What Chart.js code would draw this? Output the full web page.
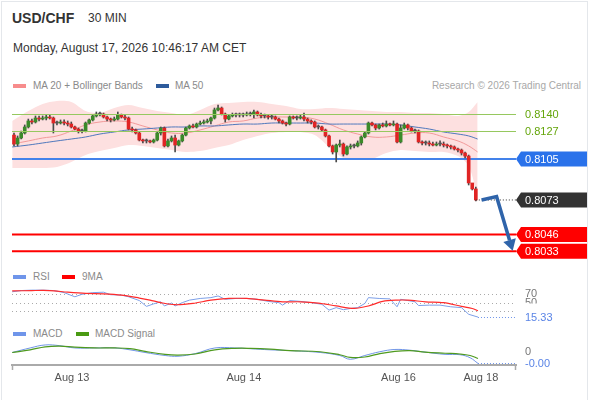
<!DOCTYPE html>
<html>
<head>
<meta charset="utf-8">
<title>USD/CHF 30 MIN</title>
<script src="https://cdn.jsdelivr.net/npm/chart.js@4.4.1/dist/chart.umd.min.js"></script>
<style>
    body { margin: 0; background: #fff; font-family: "Liberation Sans", Arial, sans-serif; }
    #frame { position: relative; width: 590px; height: 400px; overflow: hidden; }
    #border { position: absolute; left: 1px; top: 1px; width: 587px; height: 402px; border: 1px solid #e4e7eb; box-sizing: border-box; }
    .txt { position: absolute; white-space: nowrap; }
    .leg { position: absolute; white-space: nowrap; font-size: 10px; line-height: 12px; color: #8a8a8a; }
    .sw { position: absolute; width: 13px; height: 4px; }
    .panel { position: absolute; left: 0; width: 590px; }
</style>
</head>
<body>
<div id="frame">
    <div id="border"></div>

    <div class="txt" style="left:12px; top:10px; font-size:14px; line-height:17px; font-weight:bold; color:#333;">USD/CHF</div>
    <div class="txt" style="left:88px; top:11px; font-size:12px; line-height:14px; color:#333;">30 MIN</div>
    <div class="txt" style="left:13px; top:41px; font-size:12px; line-height:14px; color:#333;">Monday, August 17, 2026 10:46:17 AM CET</div>

    <!-- legend price panel -->
    <div class="sw" style="left:13px; top:84px; background:#f78c8c;"></div>
    <div class="leg" style="left:33px; top:80px;">MA 20 + Bollinger Bands</div>
    <div class="sw" style="left:156px; top:84px; background:#2e5b9c;"></div>
    <div class="leg" style="left:175px; top:80px;">MA 50</div>
    <div class="leg" style="right:9px; top:80px; color:#a8a8a8;">Research © 2026 Trading Central</div>

    <!-- legend RSI -->
    <div class="sw" style="left:13px; top:275px; background:#6f95ea;"></div>
    <div class="leg" style="left:33px; top:271px;">RSI</div>
    <div class="sw" style="left:62px; top:275px; background:#ff0000;"></div>
    <div class="leg" style="left:82px; top:271px;">9MA</div>

    <!-- legend MACD -->
    <div class="sw" style="left:13px; top:332px; background:#6f95ea;"></div>
    <div class="leg" style="left:33px; top:328px;">MACD</div>
    <div class="sw" style="left:76px; top:332px; background:#4a9a12;"></div>
    <div class="leg" style="left:95px; top:328px;">MACD Signal</div>

    <div class="panel" style="top:95px; height:167px;"><canvas id="priceChart"></canvas></div>
    <div class="panel" style="top:280px; height:45px;"><canvas id="rsiChart"></canvas></div>
    <div class="panel" style="top:340px; height:58px;"><canvas id="macdChart"></canvas></div>
</div>

<script>
// ---- data (candle index = 30 min bar) ----
var firstOpen = 0.81237;
var closes = [
    0.81167, 0.81214, 0.81253, 0.81300, 0.81347, 0.81339, 0.81370, 0.81362, 0.81370, 0.81378,
    0.81370, 0.81331, 0.81331, 0.81339, 0.81331, 0.81323, 0.81300, 0.81284, 0.81269, 0.81269,
    0.81331, 0.81355, 0.81386, 0.81401, 0.81401, 0.81378, 0.81362, 0.81355, 0.81362, 0.81394,
    0.81378, 0.81370, 0.81284, 0.81277, 0.81253, 0.81198, 0.81191, 0.81191, 0.81183, 0.81198,
    0.81253, 0.81292, 0.81152, 0.81191, 0.81214, 0.81159, 0.81191, 0.81237, 0.81292, 0.81308,
    0.81300, 0.81323, 0.81331, 0.81339, 0.81347, 0.81370, 0.81433, 0.81448, 0.81401, 0.81362,
    0.81386, 0.81394, 0.81394, 0.81394, 0.81394, 0.81401, 0.81401, 0.81417, 0.81394, 0.81386,
    0.81386, 0.81378, 0.81378, 0.81362, 0.81347, 0.81331, 0.81323, 0.81378, 0.81370, 0.81370,
    0.81378, 0.81362, 0.81347, 0.81339, 0.81300, 0.81300, 0.81277, 0.81230, 0.81152, 0.81105,
    0.81159, 0.81167, 0.81089, 0.81144, 0.81152, 0.81152, 0.81175, 0.81222, 0.81253, 0.81331,
    0.81316, 0.81292, 0.81316, 0.81308, 0.81323, 0.81316, 0.81323, 0.81183, 0.81292, 0.81316,
    0.81292, 0.81269, 0.81269, 0.81183, 0.81175, 0.81175, 0.81167, 0.81159, 0.81167, 0.81167,
    0.81159, 0.81152, 0.81144, 0.81128, 0.81120, 0.81097, 0.81073, 0.80863, 0.80816, 0.80730
];
var highs = [
    0.81253, 0.81230, 0.81269, 0.81316, 0.81362, 0.81362, 0.81386, 0.81386, 0.81386, 0.81394,
    0.81394, 0.81378, 0.81347, 0.81355, 0.81355, 0.81347, 0.81339, 0.81308, 0.81292, 0.81284,
    0.81339, 0.81362, 0.81394, 0.81417, 0.81417, 0.81409, 0.81386, 0.81370, 0.81378, 0.81417,
    0.81401, 0.81394, 0.81378, 0.81300, 0.81284, 0.81261, 0.81206, 0.81206, 0.81198, 0.81206,
    0.81261, 0.81300, 0.81300, 0.81206, 0.81230, 0.81237, 0.81198, 0.81245, 0.81300, 0.81316,
    0.81323, 0.81331, 0.81347, 0.81355, 0.81362, 0.81378, 0.81448, 0.81472, 0.81456, 0.81409,
    0.81394, 0.81409, 0.81409, 0.81409, 0.81409, 0.81417, 0.81417, 0.81433, 0.81425, 0.81409,
    0.81401, 0.81394, 0.81394, 0.81386, 0.81370, 0.81355, 0.81339, 0.81386, 0.81386, 0.81386,
    0.81394, 0.81409, 0.81370, 0.81355, 0.81347, 0.81316, 0.81308, 0.81284, 0.81237, 0.81159,
    0.81167, 0.81198, 0.81175, 0.81152, 0.81167, 0.81167, 0.81191, 0.81230, 0.81261, 0.81339,
    0.81339, 0.81323, 0.81323, 0.81331, 0.81347, 0.81331, 0.81347, 0.81331, 0.81316, 0.81331,
    0.81323, 0.81300, 0.81284, 0.81277, 0.81191, 0.81191, 0.81191, 0.81183, 0.81183, 0.81191,
    0.81183, 0.81167, 0.81159, 0.81152, 0.81136, 0.81128, 0.81105, 0.81081, 0.80847, 0.80831
];
var lows = [
    0.81152, 0.81152, 0.81206, 0.81245, 0.81292, 0.81323, 0.81331, 0.81347, 0.81355, 0.81355,
    0.81362, 0.81253, 0.81316, 0.81323, 0.81316, 0.81308, 0.81292, 0.81277, 0.81253, 0.81253,
    0.81261, 0.81323, 0.81347, 0.81378, 0.81386, 0.81370, 0.81347, 0.81339, 0.81347, 0.81355,
    0.81370, 0.81355, 0.81277, 0.81261, 0.81245, 0.81191, 0.81175, 0.81175, 0.81175, 0.81175,
    0.81191, 0.81237, 0.81144, 0.81144, 0.81183, 0.81105, 0.81152, 0.81183, 0.81230, 0.81284,
    0.81292, 0.81292, 0.81316, 0.81323, 0.81331, 0.81323, 0.81362, 0.81425, 0.81394, 0.81339,
    0.81355, 0.81378, 0.81378, 0.81378, 0.81378, 0.81386, 0.81386, 0.81370, 0.81386, 0.81370,
    0.81370, 0.81362, 0.81362, 0.81355, 0.81331, 0.81323, 0.81308, 0.81316, 0.81362, 0.81355,
    0.81362, 0.81347, 0.81331, 0.81323, 0.81292, 0.81284, 0.81269, 0.81222, 0.81144, 0.81089,
    0.81027, 0.81144, 0.81073, 0.81081, 0.81128, 0.81136, 0.81144, 0.81159, 0.81214, 0.81245,
    0.81308, 0.81277, 0.81284, 0.81300, 0.81300, 0.81308, 0.81308, 0.81175, 0.81175, 0.81284,
    0.81277, 0.81261, 0.81253, 0.81175, 0.81159, 0.81159, 0.81152, 0.81152, 0.81152, 0.81152,
    0.81144, 0.81136, 0.81128, 0.81120, 0.81105, 0.81081, 0.81058, 0.80847, 0.80808, 0.80722
];

// bollinger bands / moving averages, read every few bars
var bandIdx = [-0.5, 4, 8, 12, 16, 20, 24, 28, 32, 36, 40, 44, 48, 52, 56, 60, 64, 68, 72, 76, 80, 84, 88, 92, 96, 100, 104, 108, 112, 116, 120, 124, 127, 129.5];
var bbUpper = [0.81347, 0.81425, 0.81480, 0.81503, 0.81495, 0.81425, 0.81409, 0.81448, 0.81472, 0.81448, 0.81425, 0.81409, 0.81394, 0.81433, 0.81480, 0.81487, 0.81495, 0.81495, 0.81480, 0.81464, 0.81441, 0.81441, 0.81448, 0.81441, 0.81433, 0.81425, 0.81417, 0.81417, 0.81409, 0.81409, 0.81401, 0.81386, 0.81417, 0.81495];
var bbLower = [0.80980, 0.80980, 0.80980, 0.80988, 0.81027, 0.81081, 0.81112, 0.81136, 0.81159, 0.81152, 0.81136, 0.81120, 0.81105, 0.81112, 0.81136, 0.81159, 0.81198, 0.81230, 0.81253, 0.81261, 0.81261, 0.81237, 0.81144, 0.81058, 0.81042, 0.81050, 0.81097, 0.81120, 0.81112, 0.81105, 0.81105, 0.81073, 0.80995, 0.80753];
var ma20 = [0.81167, 0.81191, 0.81214, 0.81230, 0.81269, 0.81316, 0.81339, 0.81347, 0.81339, 0.81308, 0.81277, 0.81253, 0.81253, 0.81277, 0.81308, 0.81339, 0.81347, 0.81370, 0.81378, 0.81378, 0.81378, 0.81362, 0.81323, 0.81277, 0.81245, 0.81222, 0.81222, 0.81237, 0.81253, 0.81253, 0.81222, 0.81191, 0.81152, 0.81105];
var ma50 = [0.81144, 0.81159, 0.81175, 0.81191, 0.81206, 0.81222, 0.81245, 0.81261, 0.81277, 0.81284, 0.81292, 0.81300, 0.81300, 0.81308, 0.81308, 0.81316, 0.81323, 0.81323, 0.81331, 0.81331, 0.81331, 0.81331, 0.81323, 0.81323, 0.81323, 0.81323, 0.81323, 0.81316, 0.81300, 0.81284, 0.81261, 0.81245, 0.81230, 0.81206];

// key levels
var resistances = [0.8140, 0.8127];
var pivot = 0.8105;
var lastPrice = 0.8073;
var supports = [0.8046, 0.8033];

// forecast arrow
var forecastIdx = [130.6, 134.8, 139.3];
var forecastPrice = [0.80730, 0.80756, 0.80334];

// RSI + 9MA
var rsiIdx = [-0.5, 2, 5, 8, 11, 14, 17, 19, 22, 25, 27, 30, 32, 35, 37, 39, 41, 42, 44, 45, 47, 49, 52, 55, 57, 59, 62, 65, 68, 71, 74, 75, 77, 80, 83, 86, 88, 90, 92, 94, 96, 98, 99, 102, 105, 107, 108, 110, 112, 113, 116, 119, 122, 125, 127, 129.6];
var rsiVal = [76, 79, 80, 80, 79, 74, 64, 70, 74, 75, 69, 68, 64, 55, 41, 47, 52, 42, 49, 42, 50, 56, 60, 62, 66, 58, 60, 60, 58, 53, 50, 44, 55, 53, 50, 46, 32, 38, 33, 36, 38, 48, 62, 60, 59, 40, 58, 55, 52, 43, 44, 44, 40, 38, 22, 15.33];
var rsiMaIdx = [-0.5, 5, 10, 15, 20, 25, 30, 35, 38, 41, 45, 50, 55, 60, 65, 70, 75, 80, 85, 90, 95, 99, 103, 107, 110, 115, 120, 125, 128, 129.6];
var rsiMaVal = [78, 79, 79, 75, 72, 71, 68, 61, 56, 50, 45, 48, 56, 60, 60, 56, 52, 52, 49, 42, 36, 42, 53, 56, 56, 52, 50, 41, 36, 30.6];
var rsiLevels = [70, 50, 30];
var rsiLabels = [70, 50];

// MACD
var macdIdx = [-0.5, 4.5, 8.7, 12.8, 17, 22.6, 28.2, 32.4, 36.6, 42.2, 45.8, 50.6, 56.1, 61.7, 66, 71.5, 77.1, 85.5, 91, 93.9, 98, 102.2, 106.4, 110.6, 114.8, 120.4, 124.6, 127.4, 129.6];
var macdVal = [-0.00001, 0.00011, 0.00019, 0.00017, 0.00011, 0.00011, 0.00011, 0.00006, -0.00001, -0.00009, -0.00011, -0.00004, 0.00011, 0.00011, 0.00009, 0.00006, 0.00004, -0.00001, -0.00009, -0.00019, -0.00009, 0.00001, 0.00007, 0.00005, 0, -0.00006, -0.00007, -0.00015, -0.0003];
var signalVal = [-0.00001, 0.00006, 0.00014, 0.00016, 0.00013, 0.00011, 0.00011, 0.00009, 0.00002, -0.00006, -0.00008, -0.00005, 0.00006, 0.00010, 0.00010, 0.00008, 0.00004, 0.00001, -0.00007, -0.00014, -0.00013, -0.00004, 0.00002, 0.00004, 0, -0.00003, -0.00005, -0.00009, -0.00017];

// x axis labels
var dayLabels = ['Aug 13', 'Aug 14', 'Aug 16', 'Aug 18'];
var dayIdx = [16.2, 64.2, 107.4, 130.4];

// ---- helpers ----
Chart.defaults.font.family = '"Liberation Sans", Arial, sans-serif';
var labelFont = '11px "Liberation Sans", Arial, sans-serif';
var xMin = -0.56, xMax = 140.22;
var pad = { left: 12, right: 74, top: 0, bottom: 0 };
var levelGreen = 'rgb(150, 200, 95)';
var labelGreen = 'rgb(100, 165, 10)';

function pts(xs, ys) {
    return xs.map((x, i) => ({ x: x, y: ys[i] }));
}

var opens = closes.map((c, i) => i === 0 ? firstOpen : closes[i - 1]);
var candleColors = closes.map((c, i) => c > opens[i] ? '#3b8a2a' : (c < opens[i] ? '#e02424' : '#555'));

function hline(ctx, area, py, color, width, dash) {
    ctx.save();
    ctx.beginPath();
    ctx.setLineDash(dash || []);
    ctx.moveTo(area.left, py);
    ctx.lineTo(area.right, py);
    ctx.strokeStyle = color;
    ctx.lineWidth = width;
    ctx.stroke();
    ctx.restore();
}

function tag(ctx, xTip, xEnd, py, color, text) {
    ctx.beginPath();
    ctx.moveTo(xTip, py);
    ctx.lineTo(xTip + 5, py - 7.5);
    ctx.lineTo(xEnd, py - 7.5);
    ctx.lineTo(xEnd, py + 7.5);
    ctx.lineTo(xTip + 5, py + 7.5);
    ctx.closePath();
    ctx.fillStyle = color;
    ctx.fill();
    ctx.fillStyle = '#fff';
    ctx.font = labelFont;
    ctx.textBaseline = 'middle';
    ctx.fillText(text, xTip + 9, py + 0.5);
}

// levels, tags and arrow on the price panel
var priceOverlay = {
    id: 'priceOverlay',
    beforeDatasetsDraw(chart) {
        var ctx = chart.ctx, a = chart.chartArea, ys = chart.scales.y;
        hline(ctx, a, ys.getPixelForValue(pivot), '#4382ea', 2);
        supports.forEach(v => hline(ctx, a, ys.getPixelForValue(v), '#ff0000', 2));
    },
    afterDatasetsDraw(chart) {
        var ctx = chart.ctx, a = chart.chartArea, xs = chart.scales.x, ys = chart.scales.y;
        var xEnd = chart.width - 3;
        ctx.save();
        // resistance lines go over the band and averages
        resistances.forEach(v => hline(ctx, a, Math.round(ys.getPixelForValue(v)) + 0.5, levelGreen, 1));

        // dotted last price
        var py = ys.getPixelForValue(lastPrice);
        ctx.beginPath();
        ctx.setLineDash([1, 2]);
        ctx.moveTo(xs.getPixelForValue(closes.length - 1), py);
        ctx.lineTo(a.right, py);
        ctx.strokeStyle = '#333';
        ctx.lineWidth = 1;
        ctx.stroke();
        ctx.setLineDash([]);

        // forecast arrow
        var ax = forecastIdx.map(v => xs.getPixelForValue(v));
        var ay = forecastPrice.map(v => ys.getPixelForValue(v));
        var n = ax.length - 1;
        var dx = ax[n] - ax[n - 1], dy = ay[n] - ay[n - 1];
        var len = Math.hypot(dx, dy), ux = dx / len, uy = dy / len;
        var head = 11, half = 6.5;
        var bx = ax[n] - ux * head, by = ay[n] - uy * head;
        ctx.beginPath();
        ctx.moveTo(ax[0], ay[0]);
        for (var i = 1; i < n; i++) ctx.lineTo(ax[i], ay[i]);
        ctx.lineTo(bx, by);
        ctx.strokeStyle = '#2f64aa';
        ctx.fillStyle = '#2f64aa';
        ctx.lineWidth = 3.5;
        ctx.lineJoin = 'miter';
        ctx.stroke();
        ctx.beginPath();
        ctx.moveTo(ax[n], ay[n]);
        ctx.lineTo(bx - uy * half, by + ux * half);
        ctx.lineTo(bx + uy * half, by - ux * half);
        ctx.closePath();
        ctx.fill();

        // labels on the right
        ctx.font = labelFont;
        ctx.textBaseline = 'middle';
        resistances.forEach(v => {
            ctx.fillStyle = labelGreen;
            ctx.fillText(v.toFixed(4), a.right + 9, Math.round(ys.getPixelForValue(v)) + 1);
        });
        tag(ctx, a.right, xEnd, ys.getPixelForValue(pivot), '#2a72ea', pivot.toFixed(4));
        tag(ctx, a.right, xEnd, py, '#333333', lastPrice.toFixed(4));
        supports.forEach(v => tag(ctx, a.right, xEnd, ys.getPixelForValue(v), '#ff0000', v.toFixed(4)));
        ctx.restore();
    }
};

var rsiOverlay = {
    id: 'rsiOverlay',
    beforeDatasetsDraw(chart) {
        var ctx = chart.ctx, a = chart.chartArea, ys = chart.scales.y;
        rsiLevels.forEach(v => hline(ctx, a, Math.round(ys.getPixelForValue(v)) + 0.5, '#aaa', 1, [1, 3]));
    },
    afterDatasetsDraw(chart) {
        var ctx = chart.ctx, a = chart.chartArea, xs = chart.scales.x, ys = chart.scales.y;
        var last = rsiVal[rsiVal.length - 1];
        var py = Math.round(ys.getPixelForValue(last)) + 0.5;
        ctx.save();
        ctx.beginPath();
        ctx.setLineDash([1, 2]);
        ctx.moveTo(xs.getPixelForValue(rsiIdx[rsiIdx.length - 1]), py);
        ctx.lineTo(a.right, py);
        ctx.strokeStyle = '#6f95ea';
        ctx.lineWidth = 1;
        ctx.stroke();
        ctx.font = labelFont;
        ctx.textBaseline = 'middle';
        ctx.fillStyle = '#777';
        rsiLabels.forEach(v => ctx.fillText(String(v), a.right + 9, ys.getPixelForValue(v)));
        ctx.fillStyle = '#fff';
        ctx.fillRect(a.right + 6, py - 14, 44, 24);
        ctx.fillStyle = '#5a84e6';
        ctx.fillText(last.toFixed(2), a.right + 9, py);
        ctx.restore();
    }
};

var macdOverlay = {
    id: 'macdOverlay',
    afterDatasetsDraw(chart) {
        var ctx = chart.ctx, a = chart.chartArea, xs = chart.scales.x, ys = chart.scales.y;
        var last = macdVal[macdVal.length - 1];
        var py = Math.round(ys.getPixelForValue(last)) + 0.5;
        ctx.save();
        ctx.beginPath();
        ctx.setLineDash([1, 2]);
        ctx.moveTo(xs.getPixelForValue(macdIdx[macdIdx.length - 1]), py);
        ctx.lineTo(a.right, py);
        ctx.strokeStyle = '#6f95ea';
        ctx.lineWidth = 1;
        ctx.stroke();
        ctx.setLineDash([]);
        // small end marks of the time axis
        ctx.beginPath();
        ctx.moveTo(a.left + 0.5, a.bottom);
        ctx.lineTo(a.left + 0.5, a.bottom + 5);
        ctx.moveTo(a.right - 0.5, a.bottom);
        ctx.lineTo(a.right - 0.5, a.bottom + 5);
        ctx.strokeStyle = '#aaa';
        ctx.lineWidth = 1.5;
        ctx.stroke();
        ctx.font = labelFont;
        ctx.textBaseline = 'middle';
        ctx.fillStyle = '#777';
        ctx.fillText('0', a.right + 9, ys.getPixelForValue(0));
        ctx.fillStyle = '#5a84e6';
        ctx.fillText(last.toFixed(2), a.right + 9, py);
        ctx.restore();
    }
};

var hiddenX = { type: 'linear', min: xMin, max: xMax, offset: false, display: false };

// ---- price panel ----
// higher "order" is drawn first: band, then MAs, then candles on top
var priceChart = new Chart(document.getElementById('priceChart'), {
    type: 'bar',
    data: {
        datasets: [
            { type: 'line', order: 4, data: pts(bandIdx, bbUpper), borderWidth: 0, pointRadius: 0, fill: '+1', backgroundColor: '#fde0e0', tension: 0.3 },
            { type: 'line', order: 4, data: pts(bandIdx, bbLower), borderWidth: 0, pointRadius: 0, fill: false, tension: 0.3 },
            { type: 'line', order: 3, data: pts(bandIdx, ma50), borderColor: '#4f78bd', borderWidth: 1, pointRadius: 0, fill: false, tension: 0.4 },
            { type: 'line', order: 3, data: pts(bandIdx, ma20), borderColor: '#f29a9a', borderWidth: 1, pointRadius: 0, fill: false, tension: 0.4 },
            { // wicks
                order: 1,
                data: closes.map((c, i) => ({ x: i, y: [lows[i], highs[i]] })),
                backgroundColor: '#4a4a4a', barThickness: 1, grouped: false, borderWidth: 0
            },
            { // bodies
                order: 0,
                data: closes.map((c, i) => ({ x: i, y: [opens[i], c] })),
                backgroundColor: candleColors, barThickness: 3, grouped: false, borderWidth: 0, minBarLength: 1
            }
        ]
    },
    options: {
        responsive: true,
        maintainAspectRatio: false,
        animation: false,
        events: [],
        layout: { padding: pad },
        scales: {
            x: hiddenX,
            y: { type: 'linear', min: 0.802456, max: 0.815498, display: false }
        },
        plugins: {
            legend: { display: false },
            tooltip: { enabled: false },
            filler: { drawTime: 'beforeDraw' }
        }
    },
    plugins: [priceOverlay]
});

// ---- RSI panel ----
var rsiChart = new Chart(document.getElementById('rsiChart'), {
    type: 'line',
    data: {
        datasets: [
            { data: pts(rsiMaIdx, rsiMaVal), borderColor: '#ff2b2b', borderWidth: 1.2, pointRadius: 0, tension: 0.3 },
            { data: pts(rsiIdx, rsiVal), borderColor: '#7c9fe8', borderWidth: 1, pointRadius: 0, tension: 0 }
        ]
    },
    options: {
        responsive: true,
        maintainAspectRatio: false,
        animation: false,
        events: [],
        layout: { padding: pad },
        scales: {
            x: hiddenX,
            y: { type: 'linear', min: -3.7, max: 104.3, display: false }
        },
        plugins: { legend: { display: false }, tooltip: { enabled: false } }
    },
    plugins: [rsiOverlay]
});

// ---- MACD panel with the time axis ----
var macdChart = new Chart(document.getElementById('macdChart'), {
    type: 'line',
    data: {
        datasets: [
            { data: pts(macdIdx, signalVal), borderColor: '#4f9a1f', borderWidth: 1.2, pointRadius: 0, tension: 0.4 },
            { data: pts(macdIdx, macdVal), borderColor: '#6f94e6', borderWidth: 1, pointRadius: 0, tension: 0.4 }
        ]
    },
    options: {
        responsive: true,
        maintainAspectRatio: false,
        animation: false,
        events: [],
        layout: { padding: { left: 12, right: 74, top: 0, bottom: 8 } },
        scales: {
            x: {
                type: 'linear', min: xMin, max: xMax, offset: false,
                grid: { display: false, drawTicks: false },
                border: { display: true, color: '#aaa', width: 2 },
                afterBuildTicks: axis => { axis.ticks = dayIdx.map(v => ({ value: v })); },
                ticks: {
                    autoSkip: false, maxRotation: 0, padding: 6,
                    color: '#555', font: { size: 11 },
                    callback: (value, index) => dayLabels[index]
                }
            },
            y: { type: 'linear', min: -0.000342, max: 0.000321, display: false }
        },
        plugins: { legend: { display: false }, tooltip: { enabled: false } }
    },
    plugins: [macdOverlay]
});
</script>
</body>
</html>
